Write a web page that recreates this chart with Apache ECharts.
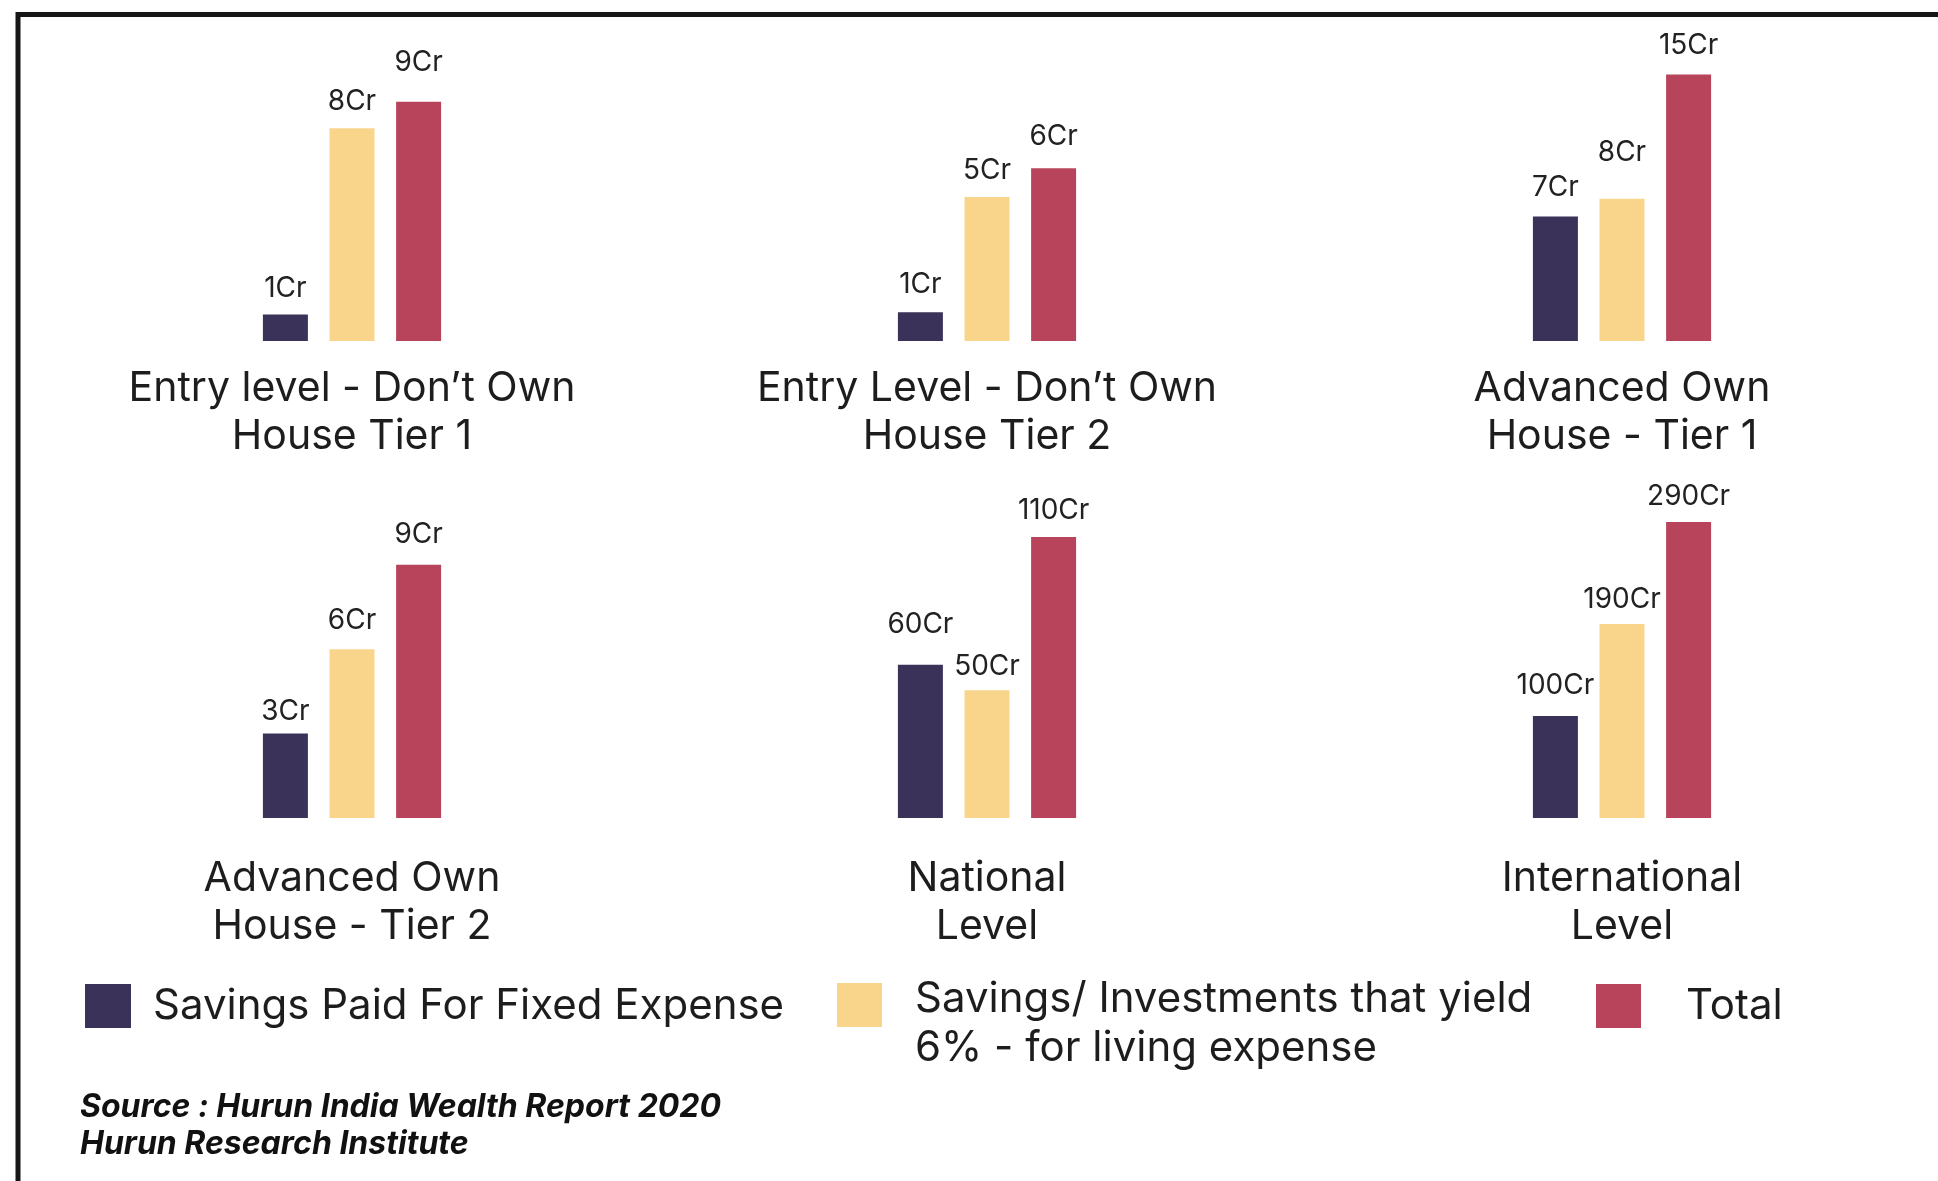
<!DOCTYPE html>
<html>
<head>
<meta charset="utf-8">
<title>Savings needed by wealth level</title>
<script src="https://cdn.jsdelivr.net/npm/echarts@6/dist/echarts.min.js"></script>
<style>
  html, body { margin: 0; padding: 0; background: #ffffff; }
  #chart { width: 1938px; height: 1181px; }
</style>
</head>
<body>
<div id="chart"></div>
<script>
// Panels (one small bar chart each), in reading order
const panelNames = [
  'Entry level - Don\u2019t Own\nHouse Tier 1',
  'Entry Level - Don\u2019t Own\nHouse Tier 2',
  'Advanced Own\nHouse - Tier 1',
  'Advanced Own\nHouse - Tier 2',
  'National\nLevel',
  'International\nLevel'
];

// Values in crore (Cr), one entry per panel
const fixedExpense = [1, 1, 7, 3, 60, 100];
const livingInvestments = [8, 5, 8, 6, 50, 190];
const totals = [9, 6, 15, 9, 110, 290];

const seriesNames = [
  'Savings Paid For Fixed Expense',
  'Savings/ Investments that yield\n6% - for living expense',
  'Total'
];
const seriesValues = [fixedExpense, livingInvestments, totals];
const seriesColors = ['#3b3259', '#f9d58b', '#b8445b'];

// Each panel has its own value scale
const panelAxisMax = [11.7, 10.8, 17.5, 11.3, 124.5, 311.6];

// Extra lift (px) of individual value labels, per series then per panel
const labelLift = [
  [-1, 1, 2, -5, 13, 3],
  [0, -1, 19, 2, -3, -2],
  [12, 5, 2, 3, -1, -2]
];

const FONT = 'Inter, "Noto Sans", sans-serif';
const TEXT = '#1d1d1d';

const colCenters = [352, 987, 1622];
const rows = [
  { top: 30, height: 311, labelMargin: 24 },
  { top: 500, height: 318, labelMargin: 37 }
];
const GRID_W = 300;

const grids = [], xAxes = [], yAxes = [], series = [];
panelNames.forEach((name, i) => {
  const row = rows[Math.floor(i / 3)];
  const cx = colCenters[i % 3];
  grids.push({ left: cx - GRID_W / 2, width: GRID_W, top: row.top, height: row.height });
  xAxes.push({
    type: 'category', gridIndex: i, data: [name],
    axisLine: { show: false }, axisTick: { show: false },
    axisLabel: {
      interval: 0, margin: row.labelMargin, color: TEXT,
      fontFamily: FONT, fontSize: 41, lineHeight: 48, align: 'center'
    }
  });
  yAxes.push({
    type: 'value', gridIndex: i, min: 0, max: panelAxisMax[i], show: false,
    splitLine: { show: false }
  });
  seriesValues.forEach((vals, j) => {
    series.push({
      type: 'bar', name: seriesNames[j], xAxisIndex: i, yAxisIndex: i,
      data: [{ value: vals[i], label: { distance: 13 + labelLift[j][i] } }],
      barWidth: 45, barGap: '48%',
      itemStyle: { color: seriesColors[j] },
      label: {
        show: true, position: 'top',
        formatter: p => p.value + 'Cr',
        fontFamily: FONT, fontSize: 28, color: '#222'
      }
    });
  });
});

const legendBase = {
  orient: 'horizontal', padding: 0, icon: 'rect',
  itemWidth: 45, itemHeight: 44, selectedMode: false
};
const legends = [
  Object.assign({}, legendBase, {
    data: [seriesNames[0]], left: 85, itemWidth: 46, top: 984,
    textStyle: { fontFamily: FONT, fontSize: 42, lineHeight: 44, color: TEXT, padding: [0, 0, 0, 17] }
  }),
  Object.assign({}, legendBase, {
    // two-line entry: the swatch lines up with the first line
    data: [seriesNames[1]], left: 837, top: 951,
    formatter: name => '{gap| }\n' + name.split('\n').map(s => '{t|' + s + '}').join('\n'),
    textStyle: {
      fontFamily: FONT, fontSize: 42, color: TEXT, padding: [0, 0, 0, 28],
      rich: {
        gap: { fontSize: 10, lineHeight: 37 },
        t: { fontFamily: FONT, fontSize: 42, lineHeight: 49, color: TEXT }
      }
    }
  }),
  Object.assign({}, legendBase, {
    data: [seriesNames[2]], left: 1596, top: 984,
    textStyle: { fontFamily: FONT, fontSize: 42, lineHeight: 44, color: TEXT, padding: [0, 0, 0, 40] }
  })
];

const chart = echarts.init(document.getElementById('chart'), null, { renderer: 'canvas' });
chart.setOption({
  animation: false,
  backgroundColor: '#ffffff',
  grid: grids,
  xAxis: xAxes,
  yAxis: yAxes,
  legend: legends,
  series: series,
  graphic: [
    {
      type: 'rect', z: 0, silent: true,
      shape: { x: 18, y: 14.5, width: 2100, height: 1400 },
      style: { fill: 'none', stroke: '#161616', lineWidth: 5 }
    },
    {
      type: 'text', left: 80, top: 1089, silent: true,
      style: {
        text: 'Source : Hurun India Wealth Report 2020\nHurun Research Institute',
        font: 'italic bold 32px ' + FONT, lineHeight: 37, fill: '#111'
      }
    }
  ]
});
</script>
</body>
</html>
